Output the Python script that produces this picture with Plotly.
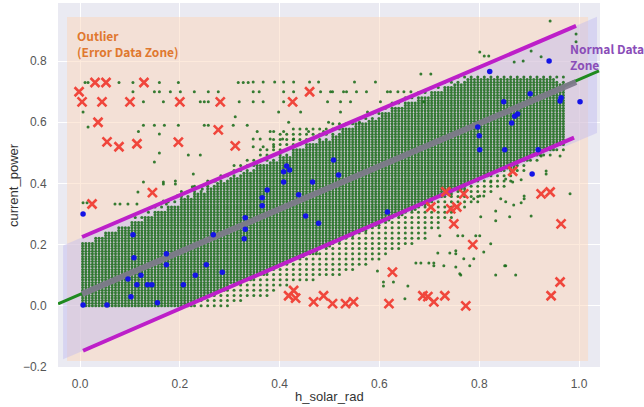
import numpy as np
import plotly.graph_objects as go

# ---------------- data ----------------
# dense cloud of measurements, bounds per h_solar_rad bin (bin width 0.025)
bin_start = [round(0.025 * i, 3) for i in range(39)]
dense_lo = [0.0, 0.0, 0.0, 0.0, 0.0, 0.0, 0.0, 0.0, 0.0, 0.02, 0.035, 0.05, 0.07, 0.085,
            0.10, 0.12, 0.14, 0.155, 0.17, 0.19, 0.21, 0.225, 0.24, 0.26, 0.28, 0.295,
            0.31, 0.33, 0.35, 0.365, 0.38, 0.40, 0.42, 0.435, 0.45, 0.47, 0.49, 0.505, 0.52]
dense_hi = [0.21, 0.225, 0.24, 0.26, 0.28, 0.29, 0.31, 0.33, 0.35, 0.37, 0.39, 0.40, 0.42,
            0.44, 0.46, 0.47, 0.49, 0.51, 0.53, 0.54, 0.56, 0.58, 0.60, 0.61, 0.63, 0.65,
            0.67, 0.68, 0.70, 0.72, 0.73, 0.74, 0.74, 0.74, 0.74, 0.74, 0.74, 0.74, 0.73]
fringe_lo = [0.0, 0.0, 0.0, 0.0, 0.0, 0.0, 0.0, 0.0, 0.0, 0.0, 0.0, 0.0, 0.01, 0.02,
             0.03, 0.05, 0.06, 0.07, 0.08, 0.09, 0.10, 0.11, 0.12, 0.14, 0.16, 0.18,
             0.20, 0.22, 0.25, 0.28, 0.31, 0.33, 0.36, 0.38, 0.40, 0.43, 0.46, 0.48, 0.50]
fringe_hi = [0.21, 0.225, 0.24, 0.26, 0.29, 0.31, 0.33, 0.35, 0.38, 0.40, 0.42, 0.44, 0.46,
             0.49, 0.52, 0.55, 0.57, 0.58, 0.58, 0.58, 0.60, 0.61, 0.62, 0.63, 0.65, 0.67,
             0.69, 0.70, 0.72, 0.74, 0.75, 0.76, 0.76, 0.76, 0.76, 0.76, 0.76, 0.76, 0.75]
x_quantum = 0.0066      # spacing of the discrete h_solar_rad values
y_quantum = 0.0085      # spacing of the discrete current_power values
x_first, x_last = 0.005, 0.97

# scattered green measurements outside the main cloud
sparse_pts = [
    (0.01, 0.73), (0.016, 0.73), (0.078, 0.73), (0.106, 0.73), (0.159, 0.73), (0.197, 0.73),
    (0.317, 0.73), (0.327, 0.73), (0.337, 0.73), (0.106, 0.70), (0.149, 0.70), (0.159, 0.70),
    (0.181, 0.70), (0.201, 0.70), (0.229, 0.70), (0.257, 0.70), (0.277, 0.70), (0.127, 0.667),
    (0.167, 0.667), (0.241, 0.667), (0.249, 0.667), (0.257, 0.667), (0.319, 0.667), (0.006, 0.634),
    (0.127, 0.59), (0.149, 0.59), (0.169, 0.59), (0.197, 0.59), (0.249, 0.59), (0.257, 0.59),
    (0.307, 0.59), (0.335, 0.59), (0.016, 0.585), (0.117, 0.57), (0.159, 0.562), (0.311, 0.618),
    (0.159, 0.50), (0.217, 0.493), (0.241, 0.493), (0.149, 0.47), (0.167, 0.405), (0.167, 0.398),
    (0.127, 0.405), (0.116, 0.372), (0.227, 0.431), (0.191, 0.408), (0.191, 0.398), (0.006, 0.337),
    (0.014, 0.337), (0.07, 0.333), (0.08, 0.333), (0.096, 0.333), (0.114, 0.333), (0.167, 0.343),
    (0.173, 0.333), (0.195, 0.36), (0.225, 0.389), (0.245, 0.382), (0.257, 0.405), (0.271, 0.408),
    (0.347, 0.732), (0.367, 0.732), (0.39, 0.732), (0.408, 0.732), (0.428, 0.732), (0.46, 0.732),
    (0.478, 0.732), (0.55, 0.732), (0.592, 0.732), (0.347, 0.70), (0.359, 0.70), (0.408, 0.70),
    (0.428, 0.70), (0.482, 0.70), (0.502, 0.70), (0.534, 0.70), (0.554, 0.70), (0.574, 0.70),
    (0.616, 0.70), (0.637, 0.70), (0.649, 0.70), (0.347, 0.667), (0.367, 0.667), (0.408, 0.667),
    (0.496, 0.667), (0.522, 0.667), (0.542, 0.667), (0.639, 0.667), (0.689, 0.667), (0.398, 0.634),
    (0.442, 0.634), (0.522, 0.634), (0.576, 0.634), (0.592, 0.634), (0.418, 0.60), (0.498, 0.60),
    (0.56, 0.60), (0.355, 0.57), (0.381, 0.57), (0.388, 0.57), (0.408, 0.57), (0.458, 0.57),
    (0.488, 0.57), (0.347, 0.545), (0.361, 0.545), (0.381, 0.545), (0.406, 0.545), (0.428, 0.545),
    (0.347, 0.52), (0.367, 0.52), (0.388, 0.52), (0.683, 0.758), (0.703, 0.758), (0.81, 0.817),
    (0.506, 0.70), (0.528, 0.70), (0.622, 0.70), (0.663, 0.70), (0.602, 0.667),
    (0.942, 0.931), (0.994, 0.889), (0.801, 0.83), (0.819, 0.817), (0.904, 0.833), (0.924, 0.814),
    (0.994, 0.863), (0.87, 0.797), (0.888, 0.80),
    (0.924, 0.49), (0.962, 0.49), (0.934, 0.441), (0.934, 0.431), (0.982, 0.366), (0.884, 0.412),
    (0.853, 0.415), (0.867, 0.405), (0.823, 0.405), (0.801, 0.359), (0.809, 0.359), (0.789, 0.35),
    (0.843, 0.35), (0.853, 0.34), (0.869, 0.33), (0.884, 0.337), (0.89, 0.359), (0.89, 0.35),
    (0.833, 0.31), (0.833, 0.278), (0.861, 0.291), (0.904, 0.294), (0.803, 0.291), (0.823, 0.203),
    (0.789, 0.154), (0.853, 0.131), (0.763, 0.101), (0.833, 0.101), (0.873, 0.101), (0.781, 0.131),
    (0.721, 0.229), (0.757, 0.229), (0.767, 0.229), (0.793, 0.229), (0.801, 0.229), (0.709, 0.131),
    (0.729, 0.131), (0.753, 0.18), (0.753, 0.17), (0.851, 0.131), (0.809, 0.176), (0.761, 0.105),
    (0.699, 0.14), (0.709, 0.14), (0.673, 0.14), (0.683, 0.14), (0.651, 0.023), (0.657, 0.065),
    (0.608, 0.078), (0.608, 0.065), (0.628, 0.078), (0.596, 0.114), (0.769, 0.154), (0.717, 0.173),
    (0.741, 0.173), (0.753, 0.127),
]

# highlighted normal samples (blue)
blue_x = [0.006, 0.006, 0.054, 0.155, 0.106, 0.108, 0.096, 0.102, 0.114, 0.122, 0.135, 0.144,
          0.173, 0.173, 0.207, 0.231, 0.253, 0.267, 0.285, 0.331, 0.331, 0.329, 0.508, 0.518,
          0.414, 0.42, 0.408, 0.408, 0.466, 0.438, 0.375, 0.365, 0.365, 0.452, 0.478, 0.616,
          0.80, 0.801, 0.851, 0.918, 0.906, 0.797, 0.94, 0.821, 0.902, 0.849, 0.964, 0.962,
          1.002, 0.877, 0.871, 0.865]
blue_y = [0.30, 0.003, 0.003, 0.01, 0.232, 0.157, 0.088, 0.03, 0.069, 0.10, 0.069, 0.069,
          0.17, 0.134, 0.069, 0.10, 0.134, 0.232, 0.11, 0.288, 0.25, 0.219, 0.477, 0.428,
          0.457, 0.444, 0.438, 0.405, 0.405, 0.363, 0.379, 0.353, 0.327, 0.294, 0.27, 0.307,
          0.556, 0.51, 0.51, 0.51, 0.431, 0.585, 0.80, 0.766, 0.693, 0.667, 0.68, 0.67,
          0.667, 0.627, 0.62, 0.598]

# detected outliers (red crosses)
red_x = [-0.002, 0.004, 0.03, 0.052, 0.044, 0.036, 0.054, 0.078, 0.114, 0.10, 0.128, 0.20,
         0.197, 0.281, 0.277, 0.311, 0.426, 0.46, 0.145, 0.024,
         0.867, 0.733, 0.769, 0.924, 0.942, 0.743, 0.755, 0.749, 0.964, 0.787, 0.703,
         0.962, 0.944, 0.773, 0.468, 0.488, 0.506, 0.532, 0.548, 0.619, 0.626, 0.687,
         0.697, 0.709, 0.731, 0.428, 0.432, 0.418]
red_y = [0.70, 0.667, 0.73, 0.73, 0.667, 0.60, 0.536, 0.52, 0.53, 0.667, 0.73, 0.667,
         0.535, 0.667, 0.575, 0.523, 0.667, 0.70, 0.37, 0.333,
         0.44, 0.373, 0.366, 0.366, 0.372, 0.317, 0.323, 0.268, 0.268, 0.20, 0.323,
         0.078, 0.033, 0.0, 0.013, 0.033, 0.007, 0.007, 0.013, 0.007, 0.11, 0.033,
         0.03, 0.013, 0.033, 0.05, 0.025, 0.033]

# fitted lines
reg_x = [-0.044, 1.04]
reg_y = [0.0065, 0.768]
fit_x = [0.004, 0.994]
fit_y = [0.039, 0.732]
upper_x = [0.004, 0.994]
upper_y = [0.225, 0.915]
lower_x = [0.006, 0.99]
lower_y = [-0.147, 0.55]

# zones
error_zone_x = [-0.026, 1.018]
error_zone_y = [-0.18, 0.944]
normal_zone_x = [-0.034, 1.036, 1.036, -0.034]
normal_zone_y = [0.197, 0.945, 0.565, -0.175]

x_ticks = [0.0, 0.2, 0.4, 0.6, 0.8, 1.0]
x_tick_text = ["0.0", "0.2", "0.4", "0.6", "0.8", "1.0"]
y_ticks = [-0.2, 0.0, 0.2, 0.4, 0.6, 0.8]
y_tick_text = ["\u22120.2", "0.0", "0.2", "0.4", "0.6", "0.8"]

# ---------------- build the cloud from the bin bounds ----------------
gx, gy = [], []
x_levels = np.arange(x_first, x_last, x_quantum)
y_levels = np.arange(0.0, 0.77, y_quantum)
for i, xv in enumerate(x_levels):
    b = min(int(xv / 0.025), len(bin_start) - 1)
    for j, yv in enumerate(y_levels):
        if dense_lo[b] <= yv <= dense_hi[b]:
            gx.append(xv); gy.append(yv)
        elif i % 2 == 0 and j % 2 == 0 and (
            fringe_lo[b] <= yv < dense_lo[b] or dense_hi[b] < yv <= fringe_hi[b]
        ):
            gx.append(xv); gy.append(yv)
gx += [p[0] for p in sparse_pts]
gy += [p[1] for p in sparse_pts]

fig = go.Figure()

fig.add_trace(go.Scatter(
    x=gx, y=gy, mode="markers",
    marker=dict(size=3.0, color="rgba(26,108,26,0.88)", line=dict(width=0)),
    showlegend=False, hoverinfo="skip"))

fig.add_trace(go.Scatter(
    x=reg_x, y=reg_y, mode="lines",
    line=dict(color="#1f8a1f", width=3), showlegend=False))
fig.add_trace(go.Scatter(
    x=fit_x, y=fit_y, mode="lines",
    line=dict(color="rgba(128,122,140,0.95)", width=6), showlegend=False))
fig.add_trace(go.Scatter(
    x=upper_x, y=upper_y, mode="lines",
    line=dict(color="#bd1fc9", width=4), showlegend=False))
fig.add_trace(go.Scatter(
    x=lower_x, y=lower_y, mode="lines",
    line=dict(color="#bd1fc9", width=4), showlegend=False))

fig.add_trace(go.Scatter(
    x=blue_x, y=blue_y, mode="markers",
    marker=dict(size=5.5, color="#1414e6", line=dict(width=0)),
    showlegend=False))
fig.add_trace(go.Scatter(
    x=red_x, y=red_y, mode="markers",
    marker=dict(symbol="x-thin", size=9, line=dict(color="#f0463c", width=2.6)),
    showlegend=False))

# zones as shapes
fig.add_shape(type="rect", xref="x", yref="y",
              x0=error_zone_x[0], x1=error_zone_x[1], y0=error_zone_y[0], y1=error_zone_y[1],
              fillcolor="rgba(252,214,186,0.5)", line=dict(width=0), layer="between")
path = "M " + " L ".join(f"{a},{b}" for a, b in zip(normal_zone_x, normal_zone_y)) + " Z"
fig.add_shape(type="path", xref="x", yref="y", path=path,
              fillcolor="rgba(192,186,240,0.45)", line=dict(width=0), layer="between")

fig.add_annotation(xref="paper", yref="paper", x=0.031, y=0.94, xanchor="left", yanchor="top",
                   text="<b>Outlier<br>(Error Data Zone)</b>", showarrow=False, align="left",
                   font=dict(family="Noto Sans CJK KR, Noto Sans", size=12, color="#e0782f"))
fig.add_annotation(xref="paper", yref="paper", x=0.941, y=0.905, xanchor="left", yanchor="top",
                   text="<b>Normal Data<br>Zone</b>", showarrow=False, align="left",
                   font=dict(family="Noto Sans CJK KR, Noto Sans", size=12, color="#8a4db8"))
fig.add_annotation(xref="paper", yref="paper", x=0.5, y=-0.082, xanchor="center", yanchor="middle",
                   text="h_solar_rad", showarrow=False,
                   font=dict(family="Liberation Sans, Arial", size=13, color="#333333"))
fig.add_annotation(xref="paper", yref="paper", x=-0.083, y=0.5, xanchor="center", yanchor="middle",
                   text="current_power", showarrow=False, textangle=-90,
                   font=dict(family="Liberation Sans, Arial", size=13, color="#333333"))

fig.update_layout(
    width=644, height=407,
    margin=dict(l=58, r=44, t=3, b=40),
    paper_bgcolor="white", plot_bgcolor="#eaeaf2",
    font=dict(family="Liberation Sans, Arial", size=12, color="#555555"),
    showlegend=False,
)
fig.update_xaxes(range=[-0.0442, 1.042], tickvals=x_ticks, ticktext=x_tick_text,
                 showgrid=True, gridcolor="white", gridwidth=1, zeroline=False,
                 ticks="outside", ticklen=6, tickcolor="rgba(0,0,0,0)", showline=False,
                 automargin=False)
fig.update_yaxes(range=[-0.2, 0.99], tickvals=y_ticks, ticktext=y_tick_text,
                 showgrid=True, gridcolor="white", gridwidth=1, zeroline=False,
                 ticks="outside", ticklen=8, tickcolor="rgba(0,0,0,0)", showline=False,
                 automargin=False)

fig.write_html("out.html", config={"displayModeBar": False},
               post_script="document.body.style.margin='0';document.body.style.overflow='hidden';")
